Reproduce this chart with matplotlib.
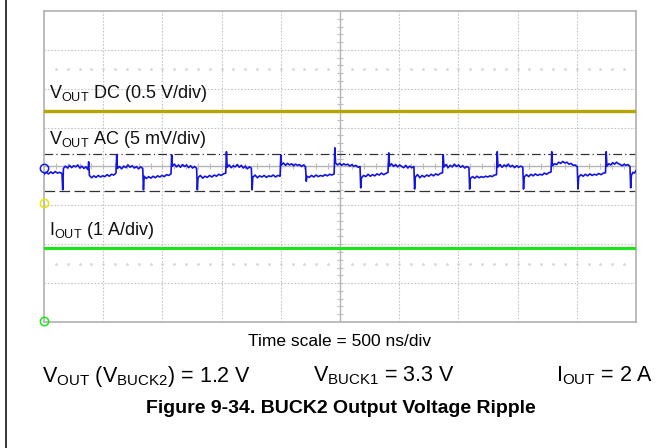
import matplotlib
matplotlib.use("Agg")
import matplotlib.pyplot as plt
import numpy as np

plt.rcParams["font.family"] = ["Liberation Sans", "DejaVu Sans"]
plt.rcParams["mathtext.fontset"] = "custom"
plt.rcParams["mathtext.rm"] = "Liberation Sans"
plt.rcParams["mathtext.it"] = "Liberation Sans:italic"

# scope screen in divisions: 10 across, 8 high
dc_level = 5.435     # VOUT DC trace
iout_level = 1.896   # IOUT trace
ac_upper = 4.31      # dash-dot cursor
ac_lower = 3.36      # dashed cursor

# VOUT AC trace: switching edges, the spike tip at each edge,
# and the levels read across each segment between edges
ac_edges = [0.316, 0.755, 1.228, 1.68, 2.157, 2.59, 3.082, 3.515, 4.0, 4.43,
            4.913, 5.35, 5.824, 6.26, 6.744, 7.19, 7.656, 8.10, 8.577, 9.02,
            9.497, 9.91]
ac_spikes = [3.40, 4.12, 4.30, 3.40, 4.30, 3.40, 4.38, 3.40, 4.30, 3.62,
             4.48, 3.45, 4.35, 3.42, 4.30, 3.42, 4.38, 3.42, 4.38, 3.42,
             4.38, 3.45]
ac_segments = [
    [3.80, 3.85, 3.81, 3.86, 3.82, 3.87, 3.83, 3.85, 3.82],
    [3.95, 4.01, 3.96, 4.03, 3.97, 4.02, 3.99, 4.04, 3.96, 4.01, 3.95, 3.99, 3.92],
    [3.77, 3.71, 3.76, 3.72, 3.77, 3.73, 3.76, 3.74, 3.79, 3.75, 3.80, 3.78, 3.83],
    [3.95, 4.00, 3.94, 4.01, 3.97, 4.04, 3.98, 4.02, 3.96, 4.00, 3.94, 3.99, 3.95],
    [3.75, 3.69, 3.74, 3.70, 3.75, 3.71, 3.76, 3.73, 3.77, 3.74, 3.79, 3.77, 3.81],
    [4.01, 4.06, 3.99, 4.04, 3.98, 4.05, 4.00, 4.04, 3.97, 4.02, 3.96, 4.00, 3.95],
    [3.71, 3.77, 3.70, 3.75, 3.72, 3.77, 3.73, 3.78, 3.75, 3.80, 3.77, 3.81, 3.83],
    [3.98, 4.04, 3.97, 4.02, 3.99, 4.05, 3.98, 4.03, 3.96, 4.01, 3.94, 3.99, 3.96],
    [3.72, 3.78, 3.71, 3.76, 3.73, 3.77, 3.72, 3.76, 3.74, 3.78, 3.73, 3.77, 3.75],
    [4.04, 4.09, 4.03, 4.08, 4.04, 4.07, 4.02, 4.06, 4.03, 4.05, 4.00, 4.04, 3.99],
    [3.75, 3.72, 3.77, 3.73, 3.78, 3.74, 3.77, 3.75, 3.79, 3.76, 3.80, 3.78, 3.81],
    [4.09, 4.04, 4.08, 4.03, 4.07, 4.04, 4.06, 4.01, 4.05, 4.00, 4.03, 3.98, 4.00],
    [3.71, 3.77, 3.74, 3.80, 3.75, 3.79, 3.76, 3.81, 3.78, 3.83, 3.79, 3.82, 3.85],
    [4.01, 4.07, 4.00, 4.05, 3.99, 4.04, 4.00, 3.97, 4.03, 3.96, 4.01, 3.97, 4.00],
    [3.73, 3.79, 3.71, 3.77, 3.73, 3.78, 3.75, 3.80, 3.76, 3.81, 3.78, 3.82, 3.84],
    [3.99, 4.05, 3.97, 4.03, 3.99, 4.06, 4.00, 4.04, 3.98, 4.02, 3.96, 4.00, 3.97],
    [3.69, 3.74, 3.70, 3.75, 3.71, 3.74, 3.72, 3.75, 3.73, 3.76, 3.74, 3.78, 3.79],
    [3.99, 4.05, 3.98, 4.04, 4.00, 4.06, 3.99, 4.03, 3.97, 4.02, 3.98, 4.01, 3.98],
    [3.73, 3.79, 3.74, 3.80, 3.76, 3.81, 3.77, 3.80, 3.78, 3.83, 3.80, 3.84, 3.86],
    [4.02, 4.07, 4.05, 4.11, 4.08, 4.13, 4.09, 4.11, 4.06, 4.08, 4.03, 4.04, 3.99],
    [3.73, 3.79, 3.75, 3.80, 3.76, 3.81, 3.77, 3.80, 3.78, 3.82, 3.79, 3.83, 3.84],
    [4.01, 4.07, 4.04, 4.10, 4.06, 4.11, 4.07, 4.05, 4.02, 4.06, 4.03, 4.05, 4.00],
    [3.77, 3.85, 3.83, 3.89],
]

# channel ground markers on the left edge
marker_levels = [3.97, 3.05, 0.03]
marker_colors = ["#1a1ae6", "#e6e600", "#19e619"]

blue = "#1414e0"
olive = "#b3a600"
green = "#19e619"

# assemble the AC trace
bounds = [0] + ac_edges + [10]
ac_t, ac_v = [], []
for i, seg in enumerate(ac_segments):
    a = bounds[i] + (0.012 if i > 0 else 0)
    b = bounds[i + 1] - (0.012 if i < len(ac_segments) - 1 else 0)
    ac_t += list(np.linspace(a, b, len(seg)))
    ac_v += seg
    if i < len(ac_edges):
        ac_t.append(ac_edges[i])
        ac_v.append(ac_spikes[i])

fig = plt.figure(figsize=(6.68, 4.48), dpi=100)
ax = fig.add_axes([44 / 668, 1 - 322 / 448, 592 / 668, 311 / 448])
ax.set_xlim(0, 10)
ax.set_ylim(0, 8)

# graticule
for gx in range(1, 10):
    if gx != 5:
        ax.axvline(gx, color="#c4c4c4", lw=0.8, ls=(0, (1.5, 1.5)), zorder=1)
for gy in range(1, 8):
    if gy != 4:
        ax.axhline(gy, color="#c4c4c4", lw=0.8, ls=(0, (1.5, 1.5)), zorder=1)
ax.axvline(5, color="#b4b4b4", lw=1.0, zorder=1)
ax.axhline(4, color="#b4b4b4", lw=1.0, zorder=1)
hx = np.arange(0.2, 10, 0.2)
hy = np.arange(0.2, 8, 0.2)
ax.plot(hx, np.full_like(hx, 4), ls="none", marker="|", ms=4, mew=0.8,
        color="#bcbcbc", zorder=1)
ax.plot(np.full_like(hy, 5), hy, ls="none", marker="_", ms=4, mew=0.8,
        color="#bcbcbc", zorder=1)
for row in (1.5, 6.5):
    ax.plot(hx, np.full_like(hx, row), ls="none", marker="s", ms=0.8,
            color="#d2d2d2", zorder=1)

for s in ax.spines.values():
    s.set_color("#b0b0b0")
    s.set_linewidth(1.2)
ax.set_xticks([])
ax.set_yticks([])

# traces
ax.plot([0, 10], [dc_level, dc_level], color=olive, lw=2.4, zorder=3)
ax.plot([0, 10], [iout_level, iout_level], color=green, lw=2.2, zorder=3)
ax.plot([0, 10], [ac_upper, ac_upper], color="#333333", lw=0.9,
        ls=(0, (7, 2.5, 1, 2.5)), zorder=2)
ax.plot([0, 10], [ac_lower, ac_lower], color="#333333", lw=0.9,
        ls=(0, (8.5, 3.5)), zorder=2)
ax.plot(ac_t, ac_v, color=blue, lw=1.2, zorder=4)

for lv, c in zip(marker_levels, marker_colors):
    ax.plot([0], [lv], marker="o", ms=6, mfc="none", mec=c, mew=1.1,
            clip_on=False, zorder=5)

ax.text(0.08, 5.76, r"V$_\mathrm{OUT}$ DC (0.5 V/div)", fontsize=13,
        va="baseline", ha="left", color="#111111")
ax.text(0.08, 4.58, r"V$_\mathrm{OUT}$ AC (5 mV/div)", fontsize=13,
        va="baseline", ha="left", color="#111111")
ax.text(0.08, 2.24, r"I$_\mathrm{OUT}$ (1 A/div)", fontsize=13,
        va="baseline", ha="left", color="#111111")

# captions below the screen
def fy(py):
    return 1 - py / 448

fig.text(340 / 668, fy(341), "Time scale = 500 ns/div", fontsize=12.5,
         ha="center", va="center")
fig.text(42 / 668, fy(381.5), r"V$_\mathrm{OUT}$ (V$_\mathrm{BUCK2}$) = 1.2 V",
         fontsize=15.5, ha="left", va="baseline")
fig.text(313 / 668, fy(381.5), r"V$_\mathrm{BUCK1}$ = 3.3 V",
         fontsize=15.5, ha="left", va="baseline")
fig.text(653 / 668, fy(381.5), r"I$_\mathrm{OUT}$ = 2 A",
         fontsize=15.5, ha="right", va="baseline")
fig.text(341 / 668, fy(413), "Figure 9-34. BUCK2 Output Voltage Ripple",
         fontsize=14, fontweight="bold", ha="center", va="baseline")

# page rule on the left
fig.add_artist(plt.Line2D([6 / 668, 6 / 668], [0, 1], color="black", lw=1.1,
                          transform=fig.transFigure))

fig.savefig("out.png", dpi=100)
